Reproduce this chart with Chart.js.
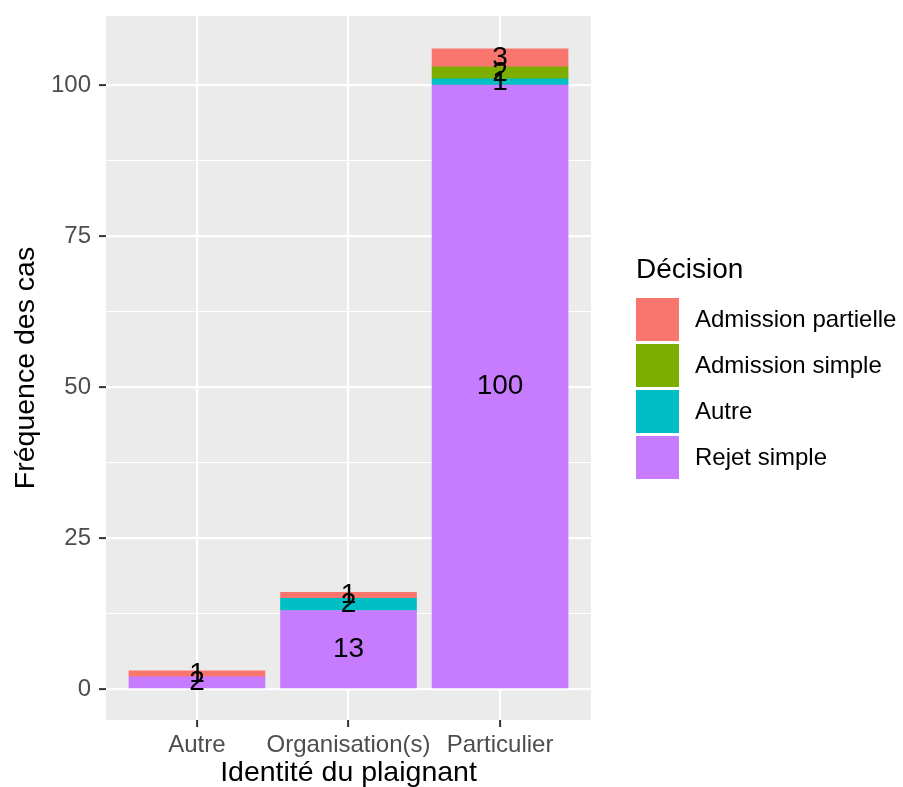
<!DOCTYPE html>
<html>
<head>
<meta charset="utf-8">
<script src="https://cdn.jsdelivr.net/npm/chart.js@4"></script>
<style>
  html, body { margin: 0; padding: 0; background: #ffffff; }
  #wrap { width: 903px; height: 787px; }
</style>
</head>
<body>
<div id="wrap"><canvas id="chart" width="903" height="787"></canvas></div>
<script>
// data
const categories = ['Autre', 'Organisation(s)', 'Particulier'];
const rejetSimple = [2, 13, 100];
const autre = [0, 2, 1];
const admissionSimple = [0, 0, 2];
const admissionPartielle = [1, 1, 3];
const yTicks = [0, 25, 50, 75, 100];
const yMinorTicks = [12.5, 37.5, 62.5, 87.5];

const FONT = "'Liberation Sans', Arial, sans-serif";

// empty segments are left out (no hairline at the join)
function toPoints(values) {
    return values.map((v, i) => ({ x: i + 1, y: v === 0 ? null : v }));
}

const datasets = [
    { label: 'Rejet simple', data: toPoints(rejetSimple), backgroundColor: '#C77CFF' },
    { label: 'Autre', data: toPoints(autre), backgroundColor: '#00BFC4' },
    { label: 'Admission simple', data: toPoints(admissionSimple), backgroundColor: '#7CAE00' },
    { label: 'Admission partielle', data: toPoints(admissionPartielle), backgroundColor: '#F8766D' }
].map(ds => Object.assign(ds, { borderWidth: 0, barThickness: 136 }));

// grey panel behind the grid
const panelBackground = {
    id: 'panelBackground',
    beforeDraw(chart) {
        const { ctx, chartArea: a } = chart;
        ctx.save();
        ctx.fillStyle = '#EBEBEB';
        ctx.fillRect(a.left, a.top, a.right - a.left, a.bottom - a.top);
        ctx.restore();
    }
};

// counts written in the middle of each segment
const segmentLabels = {
    id: 'segmentLabels',
    afterDatasetsDraw(chart) {
        const ctx = chart.ctx;
        ctx.save();
        ctx.font = '28px ' + FONT;
        ctx.fillStyle = '#000000';
        ctx.textAlign = 'center';
        ctx.textBaseline = 'middle';
        chart.data.datasets.forEach((ds, di) => {
            const meta = chart.getDatasetMeta(di);
            meta.data.forEach((bar, i) => {
                const v = ds.data[i].y;
                if (!v) return;
                ctx.fillText(String(v), bar.x, (bar.y + bar.base) / 2);
            });
        });
        ctx.restore();
    }
};

// ggplot-like legend on the right
const sideLegend = {
    id: 'sideLegend',
    afterDraw(chart) {
        const ctx = chart.ctx;
        const x = 636, top = 298, key = 43, step = 46;
        ctx.save();
        ctx.fillStyle = '#000000';
        ctx.textAlign = 'left';
        ctx.textBaseline = 'middle';
        ctx.font = '28px ' + FONT;
        ctx.fillText('Décision', x, 270);
        ctx.font = '24px ' + FONT;
        const items = chart.data.datasets.slice().reverse();
        items.forEach((ds, i) => {
            const y = top + i * step;
            ctx.fillStyle = ds.backgroundColor;
            ctx.fillRect(x, y, key, key);
            ctx.fillStyle = '#000000';
            ctx.fillText(ds.label, 695, y + key / 2 + 1);
        });
        ctx.restore();
    }
};

new Chart(document.getElementById('chart'), {
    type: 'bar',
    data: { datasets: datasets },
    plugins: [panelBackground, segmentLabels, sideLegend],
    options: {
        responsive: false,
        animation: false,
        layout: { padding: { top: 16, right: 312, left: 0, bottom: 0 } },
        plugins: {
            legend: { display: false },
            tooltip: { enabled: false }
        },
        scales: {
            x: {
                type: 'linear',
                stacked: true,
                offset: false,
                min: 0.4,
                max: 3.6,
                afterBuildTicks: scale => { scale.ticks = categories.map((c, i) => ({ value: i + 1 })); },
                afterFit: scale => {
                    scale.height = 67;
                    scale.paddingLeft = 0;
                    scale.paddingRight = 0;
                },
                border: { display: false },
                grid: { offset: false, color: '#FFFFFF', lineWidth: 2.2, tickColor: '#333333', tickWidth: 2, tickLength: 7 },
                ticks: {
                    padding: 4,
                    autoSkip: false,
                    maxRotation: 0,
                    minRotation: 0,
                    color: '#4D4D4D',
                    font: { family: FONT, size: 24 },
                    callback: v => categories[Math.round(v) - 1] || ''
                },
                title: {
                    display: true,
                    text: 'Identité du plaignant',
                    color: '#000000',
                    font: { family: FONT, size: 28.5, lineHeight: 1 },
                    padding: { top: 0, bottom: 0 }
                }
            },
            y: {
                stacked: true,
                min: -5.13,
                max: 111.42,
                afterBuildTicks: scale => {
                    scale.ticks = yTicks.concat(yMinorTicks).sort((a, b) => a - b).map(v => ({ value: v }));
                },
                afterFit: scale => {
                    scale.width = 106;
                    scale.paddingTop = 0;
                    scale.paddingBottom = 0;
                },
                border: { display: false },
                grid: {
                    color: '#FFFFFF',
                    lineWidth: c => (c.tick && yTicks.includes(c.tick.value)) ? 2.2 : 1.1,
                    tickColor: c => (c.tick && yTicks.includes(c.tick.value)) ? '#333333' : 'rgba(0,0,0,0)',
                    tickWidth: 2,
                    tickLength: 7
                },
                ticks: {
                    padding: 8,
                    color: '#4D4D4D',
                    font: { family: FONT, size: 24 },
                    callback: v => yTicks.includes(v) ? String(v) : ''
                },
                title: {
                    display: true,
                    text: 'Fréquence des cas',
                    color: '#000000',
                    font: { family: FONT, size: 28.5, lineHeight: 1 },
                    padding: { top: 12, bottom: 0 }
                }
            }
        }
    }
});
</script>
</body>
</html>
